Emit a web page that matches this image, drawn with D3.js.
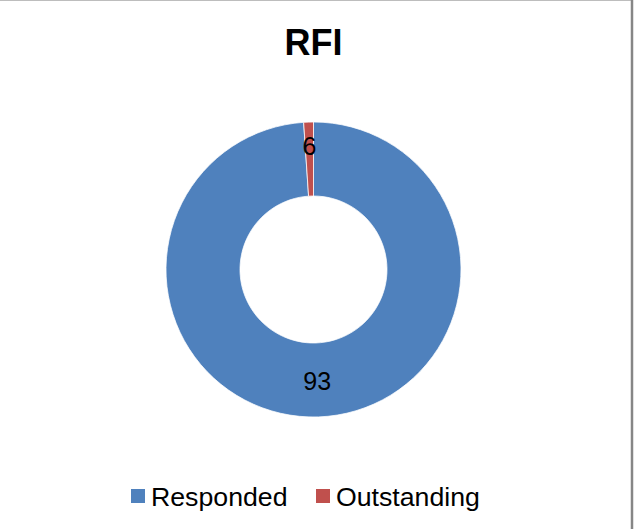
<!DOCTYPE html>
<html>
<head>
<meta charset="utf-8">
<script src="https://cdn.jsdelivr.net/npm/d3@7"></script>
<style>
  body { margin: 0; background: #fff; }
  svg { display: block; }
</style>
</head>
<body>
<div id="chart"></div>
<script>
// chart data
var categories = ["Responded", "Outstanding"];
var labels = ["93", "6"];          // numbers printed on the ring
var sliceValues = [93, 1];         // slice sizes as drawn in the picture
var colors = ["#4F81BD", "#C0504D"];
var title = "RFI";

var width = 637, height = 529;
var cx = 313.5, cy = 269.5;
var outerR = 147.5, innerR = 73.5;

var svg = d3.select("#chart")
  .append("svg")
  .attr("width", width)
  .attr("height", height);

// frame of the chart area
svg.append("rect")
  .attr("x", -5)
  .attr("y", 0.5)
  .attr("width", 637)
  .attr("height", 540)
  .attr("fill", "#fff")
  .attr("stroke", "#bdbdbd")
  .attr("stroke-width", 1);
svg.append("line")
  .attr("x1", 632).attr("x2", 632)
  .attr("y1", 0).attr("y2", height)
  .attr("stroke", "#868686")
  .attr("stroke-width", 2.5);

// title
svg.append("text")
  .attr("x", cx)
  .attr("y", 55)
  .attr("text-anchor", "middle")
  .attr("font-family", "Liberation Sans, Arial, sans-serif")
  .attr("font-weight", "bold")
  .attr("font-size", "36px")
  .attr("fill", "#000")
  .text(title);

var data = categories.map(function (c, i) {
  return { name: c, value: sliceValues[i], label: labels[i], color: colors[i] };
});

var pie = d3.pie()
  .sort(null)
  .value(function (d) { return d.value; });

var arc = d3.arc()
  .innerRadius(innerR)
  .outerRadius(outerR);

var g = svg.append("g")
  .attr("transform", "translate(" + cx + "," + cy + ")");

var arcs = pie(data);

g.selectAll("path.slice")
  .data(arcs)
  .enter()
  .append("path")
  .attr("class", "slice")
  .attr("d", arc)
  .attr("fill", function (d) { return d.data.color; })
  .attr("stroke", "#fff")
  .attr("stroke-width", 0.75);

// data labels
g.selectAll("text.lbl")
  .data(arcs)
  .enter()
  .append("text")
  .attr("class", "lbl")
  .attr("transform", function (d) {
    var c = arc.centroid(d);
    // thin slices get their label pushed a bit outwards, like Excel does
    if (d.endAngle - d.startAngle < 0.2) {
      var a = (d.startAngle + d.endAngle) / 2;
      c[0] += Math.sin(a) * 14;
      c[1] -= Math.cos(a) * 14;
    }
    return "translate(" + c[0] + "," + (c[1] + 1.5) + ")";
  })
  .attr("dy", "0.35em")
  .attr("text-anchor", "middle")
  .attr("font-family", "Liberation Sans, Arial, sans-serif")
  .attr("font-size", "25px")
  .attr("fill", "#000")
  .text(function (d) { return d.data.label; });

// legend
var legendX = [131, 316];
var legend = svg.selectAll("g.legend")
  .data(data)
  .enter()
  .append("g")
  .attr("class", "legend")
  .attr("transform", function (d, i) { return "translate(" + legendX[i] + ",489)"; });

legend.append("rect")
  .attr("width", 14)
  .attr("height", 14)
  .attr("fill", function (d) { return d.color; });

legend.append("text")
  .attr("x", 20)
  .attr("y", 16.5)
  .attr("font-family", "Liberation Sans, Arial, sans-serif")
  .attr("font-size", "26.7px")
  .attr("fill", "#000")
  .text(function (d) { return d.name; });
</script>
</body>
</html>
